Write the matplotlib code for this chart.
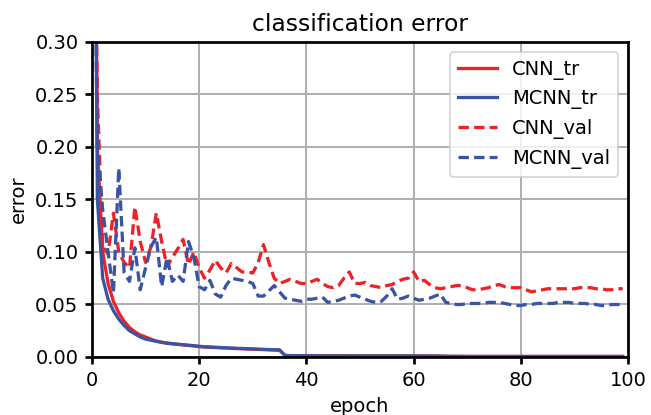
import matplotlib
matplotlib.use('Agg')
import matplotlib.pyplot as plt
import numpy as np

# Data, one value per epoch 0..99
epochs = np.arange(100)

cnn_tr = [0.90, 0.20, 0.100, 0.070, 0.053, 0.042, 0.034, 0.028, 0.024, 0.021,
          0.019, 0.017, 0.015, 0.014, 0.013, 0.0125, 0.012, 0.0115, 0.011, 0.0105,
          0.0098, 0.0095, 0.0092, 0.0090, 0.0087, 0.0085, 0.0082, 0.0080, 0.0078, 0.0076,
          0.0074, 0.0072, 0.0070, 0.0068, 0.0066, 0.0064, 0.0015, 0.0013, 0.0012, 0.0012,
          0.0012, 0.0012, 0.0011, 0.0011, 0.0011, 0.0011, 0.0011, 0.0011, 0.0011, 0.0010,
          0.0010, 0.0010, 0.0010, 0.0010, 0.0010, 0.0010, 0.0010, 0.0010, 0.0010, 0.0010,
          0.0010, 0.0010, 0.0009, 0.0009, 0.0009, 0.0008, 0.0007, 0.0006, 0.0006, 0.0006,
          0.0005, 0.0005, 0.0005, 0.0005, 0.0005, 0.0005, 0.0005, 0.0005, 0.0005, 0.0005,
          0.0005, 0.0005, 0.0005, 0.0005, 0.0005, 0.0005, 0.0005, 0.0005, 0.0005, 0.0005,
          0.0005, 0.0005, 0.0005, 0.0005, 0.0005, 0.0005, 0.0005, 0.0005, 0.0005, 0.0005]

mcnn_tr = [0.90, 0.15, 0.075, 0.055, 0.044, 0.036, 0.030, 0.025, 0.022, 0.019,
           0.017, 0.016, 0.015, 0.014, 0.0133, 0.0127, 0.0122, 0.0117, 0.0112, 0.0108,
           0.0102, 0.0098, 0.0095, 0.0093, 0.0090, 0.0088, 0.0085, 0.0083, 0.0081, 0.0079,
           0.0077, 0.0075, 0.0073, 0.0071, 0.0069, 0.0068, 0.0015, 0.0013, 0.0012, 0.0012,
           0.0012, 0.0012, 0.0011, 0.0011, 0.0011, 0.0011, 0.0011, 0.0011, 0.0011, 0.0010,
           0.0010, 0.0010, 0.0010, 0.0010, 0.0010, 0.0010, 0.0010, 0.0010, 0.0010, 0.0010,
           0.0010, 0.0010, 0.0009, 0.0009, 0.0009, 0.0008, 0.0007, 0.0006, 0.0006, 0.0006,
           0.0005, 0.0005, 0.0005, 0.0005, 0.0005, 0.0005, 0.0005, 0.0005, 0.0005, 0.0005,
           0.0005, 0.0005, 0.0005, 0.0005, 0.0005, 0.0005, 0.0005, 0.0005, 0.0005, 0.0005,
           0.0005, 0.0005, 0.0005, 0.0005, 0.0005, 0.0005, 0.0005, 0.0005, 0.0005, 0.0005]

cnn_val = [0.60, 0.25, 0.105, 0.098, 0.137, 0.100, 0.090, 0.085, 0.143, 0.110,
           0.090, 0.105, 0.137, 0.110, 0.086, 0.095, 0.103, 0.112, 0.088, 0.100,
           0.085, 0.075, 0.083, 0.092, 0.085, 0.080, 0.089, 0.085, 0.081, 0.081,
           0.080, 0.090, 0.107, 0.090, 0.075, 0.070, 0.072, 0.074, 0.072, 0.070,
           0.070, 0.072, 0.074, 0.070, 0.067, 0.066, 0.068, 0.075, 0.081, 0.070,
           0.070, 0.071, 0.068, 0.067, 0.066, 0.068, 0.069, 0.072, 0.074, 0.075,
           0.081, 0.072, 0.073, 0.069, 0.066, 0.065, 0.066, 0.067, 0.068, 0.068,
           0.066, 0.064, 0.064, 0.065, 0.066, 0.068, 0.069, 0.067, 0.066, 0.066,
           0.066, 0.064, 0.062, 0.063, 0.064, 0.065, 0.065, 0.065, 0.065, 0.065,
           0.065, 0.066, 0.066, 0.066, 0.065, 0.065, 0.064, 0.064, 0.065, 0.065]

mcnn_val = [0.60, 0.20, 0.140, 0.100, 0.061, 0.180, 0.080, 0.072, 0.104, 0.064,
            0.085, 0.105, 0.114, 0.067, 0.095, 0.072, 0.078, 0.072, 0.110, 0.095,
            0.067, 0.064, 0.073, 0.060, 0.057, 0.068, 0.075, 0.074, 0.073, 0.072,
            0.070, 0.058, 0.058, 0.063, 0.068, 0.062, 0.056, 0.055, 0.054, 0.053,
            0.055, 0.055, 0.056, 0.057, 0.052, 0.053, 0.054, 0.056, 0.058, 0.059,
            0.057, 0.055, 0.053, 0.052, 0.053, 0.058, 0.065, 0.055, 0.056, 0.058,
            0.056, 0.054, 0.055, 0.056, 0.058, 0.060, 0.052, 0.051, 0.050, 0.050,
            0.051, 0.051, 0.051, 0.051, 0.052, 0.052, 0.052, 0.051, 0.050, 0.049,
            0.049, 0.050, 0.050, 0.051, 0.051, 0.051, 0.051, 0.052, 0.052, 0.052,
            0.051, 0.051, 0.051, 0.050, 0.050, 0.049, 0.049, 0.050, 0.050, 0.050]

red = '#ee2127'
blue = '#3a53a4'

plt.rcParams['font.size'] = 10.8
plt.rcParams['axes.linewidth'] = 1.5
plt.rcParams['xtick.major.width'] = 1.5
plt.rcParams['ytick.major.width'] = 1.5
plt.rcParams['xtick.major.size'] = 4
plt.rcParams['ytick.major.size'] = 4

fig = plt.figure(figsize=(651 / 130, 415 / 130), dpi=130)
ax = fig.add_axes([0.1413, 0.1398, 0.8234, 0.759])

lw = 1.8
ax.plot(epochs, cnn_tr, color=red, linewidth=lw, label='CNN_tr')
ax.plot(epochs, mcnn_tr, color=blue, linewidth=lw, label='MCNN_tr')
ax.plot(epochs, cnn_val, color=red, linewidth=lw, linestyle=(0, (3.2, 1.6)), label='CNN_val')
ax.plot(epochs, mcnn_val, color=blue, linewidth=lw, linestyle=(0, (3.2, 1.6)), label='MCNN_val')

ax.set_xlim(0, 100)
ax.set_ylim(0, 0.30)
ax.set_xticks(np.arange(0, 101, 20))
ax.set_yticks(np.arange(0, 0.301, 0.05))
ax.yaxis.set_major_formatter(matplotlib.ticker.FormatStrFormatter('%.2f'))
ax.grid(True, color='#b0b0b0', linewidth=1.1)
ax.set_axisbelow(True)

ax.set_title('classification error')
ax.set_xlabel('epoch')
ax.set_ylabel('error')
ax.legend(loc='upper right')

fig.savefig('out.png', dpi=130)
